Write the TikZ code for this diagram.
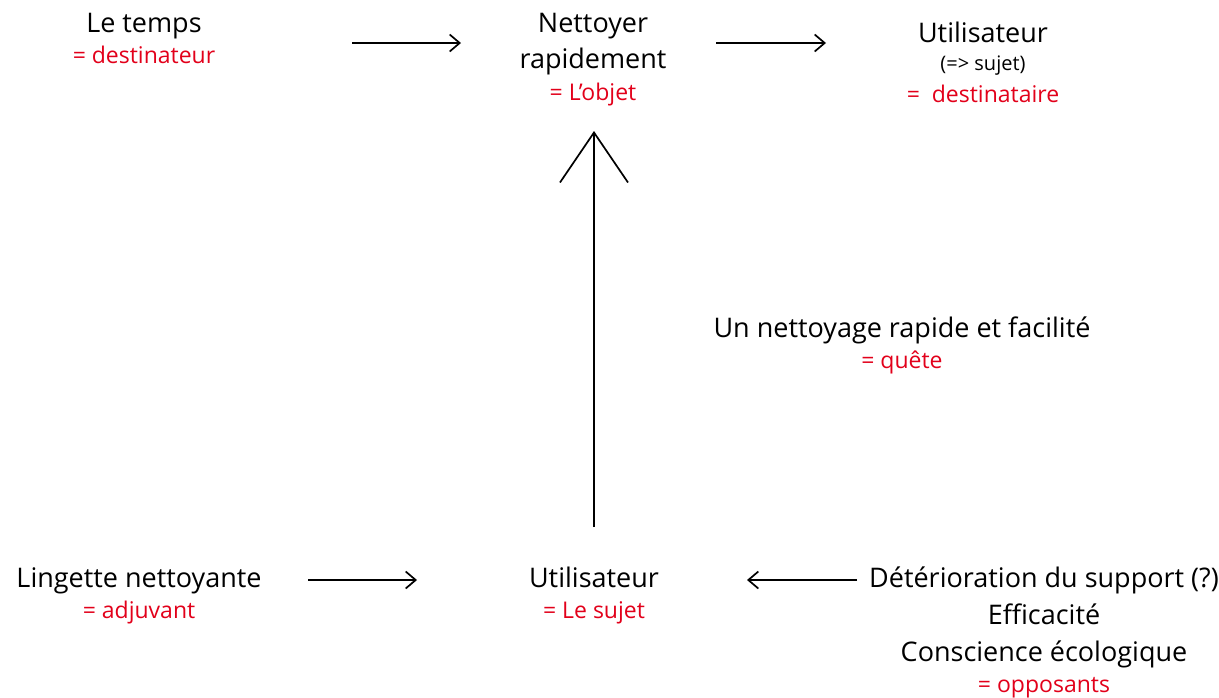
\documentclass[tikz,border=0pt]{standalone}
\usepackage{fontspec}
\setmainfont{Open Sans}
\usetikzlibrary{arrows.meta}
\definecolor{rouge}{RGB}{226,0,26}
\begin{document}
\begin{tikzpicture}[x=1pt,y=-1pt,
  blk/.style={anchor=base,inner sep=0pt,font=\fontsize{27}{30}\selectfont},
  sml/.style={anchor=base,inner sep=0pt,font=\fontsize{20}{24}\selectfont},
  rd/.style={anchor=base,inner sep=0pt,text=rouge,font=\fontsize{23}{26}\selectfont},
  arr/.style={line width=1.7pt,-{Straight Barb[length=10pt,width=17pt,line width=1.7pt]}},
  bigarr/.style={line width=1.7pt,-{Straight Barb[length=50pt,width=68pt,line width=1.7pt]}}]
\useasboundingbox (0,0) rectangle (1219,697);
% top left
\node[blk] (temps) at (144,32) {Le temps};
\node[rd] (destinateur) at (144,63) {= destinateur};
% top middle
\node[blk] (nettoyer) at (593,32) {Nettoyer};
\node[blk] (rapidement) at (593,68) {rapidement};
\node[rd] (objet) at (593,100) {= L’objet};
% top right
\node[blk] (util1) at (983,42) {Utilisateur};
\node[sml] (sujet1) at (983,70) {(=> sujet)};
\node[rd] (destinataire) at (983,102) {=\ \ destinataire};
% quest
\node[blk] (quete1) at (902,337) {Un nettoyage rapide et facilité};
\node[rd] (quete2) at (902,368) {= quête};
% bottom left
\node[blk] (lingette) at (139,587) {Lingette nettoyante};
\node[rd] (adjuvant) at (139,618) {= adjuvant};
% bottom middle
\node[blk] (util2) at (594,587) {Utilisateur};
\node[rd] (sujet2) at (594,618) {= Le sujet};
% bottom right
\node[blk] (deter) at (1044,587) {Détérioration du support (?)};
\node[blk] (effic) at (1044,624) {Efficacité};
\node[blk] (consc) at (1044,661) {Conscience écologique};
\node[rd] (opp) at (1044,692) {= opposants};
% arrow coordinates
\coordinate (a1s) at (352,43);
\coordinate (a1e) at (461,43);
\coordinate (a2s) at (716,43);
\coordinate (a2e) at (826,43);
\coordinate (a3s) at (308,580);
\coordinate (a3e) at (417,580);
\coordinate (a4s) at (857,580);
\coordinate (a4e) at (747,580);
\coordinate (vs) at (594,527);
\coordinate (ve) at (594,131);
\draw[arr] (a1s) -- (a1e);
\draw[arr] (a2s) -- (a2e);
\draw[arr] (a3s) -- (a3e);
\draw[arr] (a4s) -- (a4e);
\draw[bigarr] (vs) -- (ve);
\end{tikzpicture}
\end{document}
